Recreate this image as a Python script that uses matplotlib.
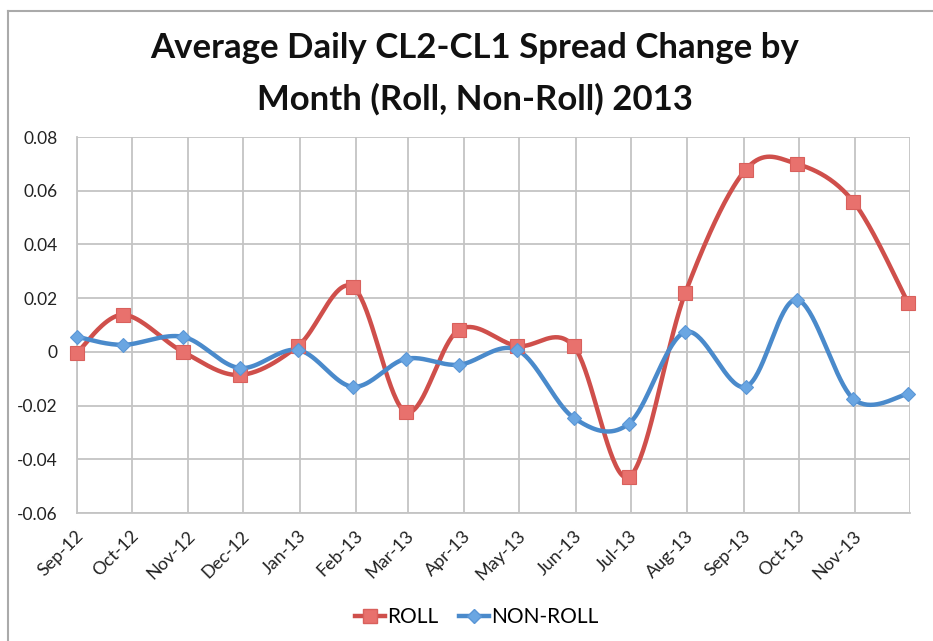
import numpy as np
import matplotlib
matplotlib.use("Agg")
import matplotlib.pyplot as plt
import matplotlib.dates as mdates
import matplotlib.transforms as mtransforms
from matplotlib.lines import Line2D

plt.rcParams['font.family'] = ['Lato', 'DejaVu Sans']

# -------------------------------------------------
# Data
# -------------------------------------------------

dates = np.array([
    "2012-09-01", "2012-09-26", "2012-10-29", "2012-11-29",
    "2012-12-31", "2013-01-30", "2013-02-28", "2013-03-29",
    "2013-04-30", "2013-05-31", "2013-06-30", "2013-07-31",
    "2013-09-02", "2013-09-30", "2013-10-31", "2013-11-30",
], dtype="datetime64[D]")

roll = [-0.0003, 0.0138, 0.0000, -0.0086, 0.0022, 0.0242, -0.0224, 0.0082,
        0.0022, 0.0020, -0.0466, 0.0220, 0.0678, 0.0700, 0.0559, 0.0182]

non_roll = [0.0056, 0.0026, 0.0056, -0.0060, 0.0007, -0.0130, -0.0026, -0.0048,
            0.0007, -0.0246, -0.0268, 0.0074, -0.0130, 0.0194, -0.0175, -0.0156]

month_ticks = np.arange("2012-09", "2013-12", dtype="datetime64[M]").astype("datetime64[D]")
x_start = np.datetime64("2012-09-01")
x_end = np.datetime64("2013-12-01")

title = "Average Daily CL2-CL1 Spread Change by\nMonth (Roll, Non-Roll) 2013"

red_line = "#cf4f4b"
red_mark = "#e8716d"
blue_line = "#4a8acb"
blue_mark = "#6aa6e2"
grid_col = "#c4c4c4"

# -------------------------------------------------
# Smoothing (Excel style bezier through the points)
# -------------------------------------------------

def smooth(x, y, n=40):
    x = np.asarray(x, float)
    y = np.asarray(y, float)
    px = np.concatenate([[x[0]], x, [x[-1]]])
    py = np.concatenate([[y[0]], y, [y[-1]]])
    xs, ys = [], []
    t = np.linspace(0, 1, n)
    for i in range(len(x) - 1):
        p0 = np.array([px[i + 1], py[i + 1]])
        p3 = np.array([px[i + 2], py[i + 2]])
        c1 = p0 + (np.array([px[i + 2], py[i + 2]]) - np.array([px[i], py[i]])) / 6
        c2 = p3 - (np.array([px[i + 3], py[i + 3]]) - np.array([px[i + 1], py[i + 1]])) / 6
        b = ((1 - t) ** 3)[:, None] * p0 + (3 * (1 - t) ** 2 * t)[:, None] * c1 \
            + (3 * (1 - t) * t ** 2)[:, None] * c2 + (t ** 3)[:, None] * p3
        xs.append(b[:, 0])
        ys.append(b[:, 1])
    return np.concatenate(xs), np.concatenate(ys)

# -------------------------------------------------
# Plot
# -------------------------------------------------

fig = plt.figure(figsize=(9.33, 6.41), dpi=100)
ax = fig.add_axes([77 / 933, 1 - 513 / 641, (910 - 77) / 933, (513 - 137) / 641])

xnum = mdates.date2num(dates)

sx, sy = smooth(xnum, roll)
ax.plot(sx, sy, color=red_line, lw=3.2, solid_capstyle="round", zorder=3)
ax.plot(xnum, roll, ls="none", marker="s", ms=10, mfc=red_mark, mec="#d9605c",
        mew=0.8, zorder=5, clip_on=False)

sx, sy = smooth(xnum, non_roll)
ax.plot(sx, sy, color=blue_line, lw=3.2, solid_capstyle="round", zorder=4)
ax.plot(xnum, non_roll, ls="none", marker="D", ms=7.5, mfc=blue_mark, mec="#5a96d6",
        mew=0.8, zorder=6, clip_on=False)

ax.set_xlim(mdates.date2num(x_start), mdates.date2num(x_end))
ax.set_ylim(-0.06, 0.08)
ax.set_yticks(np.arange(-0.06, 0.081, 0.02))
ax.set_yticklabels(["-0.06", "-0.04", "-0.02", "0", "0.02", "0.04", "0.06", "0.08"])

ax.set_xticks(mdates.date2num(month_ticks))
ax.xaxis.set_major_formatter(mdates.DateFormatter("%b-%y"))
ax.set_xticks(mdates.date2num(np.array([x_end])), minor=True)

ax.grid(True, which="both", color=grid_col, lw=1.3)
ax.set_axisbelow(True)
for s in ["top", "right"]:
    ax.spines[s].set_visible(False)
for s in ["left", "bottom"]:
    ax.spines[s].set_color(grid_col)
    ax.spines[s].set_linewidth(1.3)

ax.tick_params(axis="both", which="both", length=0, colors="#222222")
ax.tick_params(axis="y", pad=14, labelsize=12.5)
ax.tick_params(axis="x", pad=6, labelsize=13)
shift = mtransforms.ScaledTranslation(4 / 100, -12 / 100, fig.dpi_scale_trans)
for lab in ax.get_xticklabels():
    lab.set_rotation(45)
    lab.set_rotation_mode("anchor")
    lab.set_ha("right")
    lab.set_va("center")
    lab.set_transform(lab.get_transform() + shift)

fig.text(0.509, 0.885, title, ha="center", va="center", fontsize=25,
         fontweight="bold", linespacing=1.7, color="#111111")

handles = [
    Line2D([], [], color=red_line, lw=3.2, marker="s", ms=10, mfc=red_mark, mec="#d9605c"),
    Line2D([], [], color=blue_line, lw=3.2, marker="D", ms=7.5, mfc=blue_mark, mec="#5a96d6"),
]
fig.legend(handles, ["ROLL", "NON-ROLL"], loc="center", bbox_to_anchor=(0.511, 0.037),
           ncol=2, frameon=False, fontsize=15, handlelength=1.45, handletextpad=0.1,
           columnspacing=1.0)

# chart border
fig.add_artist(Line2D([8 / 933, 1], [1 - 11 / 641, 1 - 11 / 641], color="#aaaaaa", lw=1.5))
fig.add_artist(Line2D([8 / 933, 8 / 933], [0, 1 - 11 / 641], color="#aaaaaa", lw=1.5))

fig.savefig("out.png", dpi=100)
